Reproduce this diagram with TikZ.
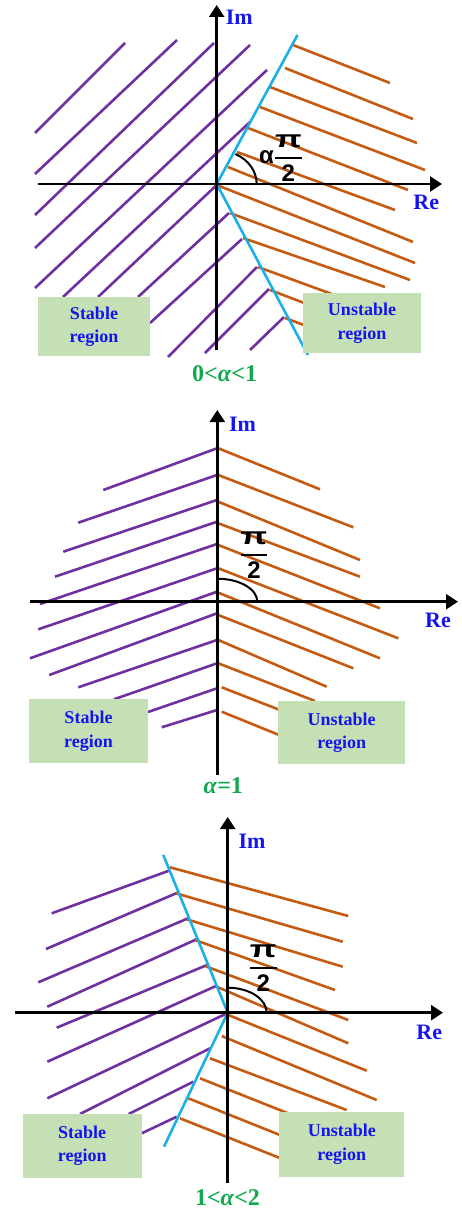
\documentclass[tikz,border=0pt]{standalone}
\usepackage{fontspec}
\setmainfont{Liberation Serif}
\setsansfont{Liberation Sans}
\usetikzlibrary{arrows.meta}
\definecolor{hatchpurple}{HTML}{7030A0}
\definecolor{hatchorange}{HTML}{C55A11}
\definecolor{edgeblue}{HTML}{1CB0E8}
\definecolor{boxgreen}{HTML}{C5E0B4}
\definecolor{labelblue}{HTML}{1414F0}
\definecolor{labelgreen}{HTML}{12A84E}
\newcommand{\halfpi}{$\displaystyle{\hbox{\scalebox{1.45}[1]{π}}\above 2pt\hbox{2}}$}
\begin{document}
\begin{tikzpicture}[x=1pt, y=-1pt,
  every node/.style={inner sep=0pt},
  axis/.style={line width=2.5pt, -{Triangle[length=12pt,width=15pt]}},
  axisname/.style={font=\fontsize{22}{26}\selectfont\bfseries, text=labelblue},
  stableline/.style={hatchpurple, line width=2.6pt},
  unstableline/.style={hatchorange, line width=2.6pt},
  boundary/.style={edgeblue, line width=2.6pt},
  anglearc/.style={line width=2pt},
  anglelabel/.style={font=\fontsize{24}{28}\selectfont\sffamily\bfseries},
  regionbox/.style={fill=boxgreen, text=labelblue, align=center, font=\fontsize{18}{23.5}\selectfont\bfseries},
  casename/.style={font=\fontsize{24}{28}\selectfont\bfseries, text=labelgreen}
]
\useasboundingbox (0,0) rectangle (462,1212);
\coordinate (O1) at (216.7,184);
\coordinate (O2) at (217.3,601.7);
\coordinate (O3) at (227.7,1012.7);
\foreach \xa/\ya/\xb/\yb in {35/133/125/43, 35/174/177/40, 35/215/214/43, 35/248/250/45, 35/288/267/70, 63/297/250/122, 98/297/216.7/185, 138/297/229/213, 150/323/242/239, 168/357/257/267, 205/353/269/289, 250/350/284/317}
  \draw[stableline] (\xa,\ya) -- (\xb,\yb);
\foreach \xa/\ya/\xb/\yb in {293/45/390/83, 285/68/413/119, 270/87/417/143, 260/107/425/170, 248/128/408/190, 237/152/395/210, 228/167/413/242, 216.7/185/415/263, 230/213/410/280, 243/238/385/287, 258/267/340/297, 270/290/320/309, 285/318/320/331}
  \draw[unstableline] (\xa,\ya) -- (\xb,\yb);
\draw[boundary] (297.5,35) -- (O1) -- (308,355);
\draw[axis] (216.7,350) -- (216.7,5);
\draw[axis] (38,184) -- (442,184);
\draw[anglearc] ([xshift=40pt]O1) arc[start angle=0, end angle=-62, x radius=40, y radius=34];
\node[anglelabel] (angleA) at (281,158) {α\halfpi};
\node[axisname] (imA) at (239.3,17.5) {Im};
\node[axisname] (reA) at (426.3,202.2) {Re};
\node[regionbox, minimum width=112pt, minimum height=59pt] (stableA) at (94,326.5) {Stable\\region};
\node[regionbox, minimum width=118pt, minimum height=60pt] (unstableA) at (362,323) {Unstable\\region};
\node[casename] (caseA) at (224.7,374) {0<\textit{α}<1};
\foreach \xa/\ya/\xb/\yb in {103.3/490/217/448.3, 78.3/522.7/217/475, 63.3/551.7/217/500, 55/576.7/217/521.7, 40/604/217/544, 38.3/629.3/217/568.3, 30/658.3/217/591.7, 49.3/675/217/613.3, 78.3/687.3/217/640, 114/699.3/217/663.3, 148/712/217/688.3, 161.7/727.3/217/710}
  \draw[stableline] (\xa,\ya) -- (\xb,\yb);
\foreach \xa/\ya/\xb/\yb in {218.3/448.3/320/489.3, 218.3/475/353.3/527.3, 218.3/501.7/360/560, 218.3/523.3/360/576.7, 218.3/545/380/608.3, 218.3/568.3/398.3/638.3, 218.3/592.7/380/658.3, 218.3/615/353.3/668.3, 218.3/640/326.7/686.7, 218.3/663.3/315/701, 221.7/687.3/285/712, 221.7/711.7/283.3/736.7}
  \draw[unstableline] (\xa,\ya) -- (\xb,\yb);
\draw[axis] (217.3,775) -- (217.3,410);
\draw[axis] (30,601.7) -- (458,601.7);
\draw[anglearc] ([xshift=40pt]O2) arc[start angle=0, end angle=-90, x radius=40, y radius=23];
\node[anglelabel] (angleB) at (254,555) {\halfpi};
\node[axisname] (imB) at (242.5,424) {Im};
\node[axisname] (reB) at (438,620.5) {Re};
\node[regionbox, minimum width=118.4pt, minimum height=63.4pt] (stableB) at (88.5,731) {Stable\\region};
\node[regionbox, minimum width=126.7pt, minimum height=63pt] (unstableB) at (341.7,732.5) {Unstable\\region};
\node[casename] (caseB) at (223.3,785.8) {\textit{α}=1};
\foreach \xa/\ya/\xb/\yb in {51.7/913.3/169/870.7, 46/949/177.5/892.7, 38.3/982.3/188/918.3, 47.3/1006.7/196.5/939.3, 56.7/1027.7/207/965, 47.3/1061.7/216/986, 47.3/1098.3/227/1013.3, 80/1114/210/1048.3, 128.7/1114/193.3/1081.7, 141.7/1133.3/176.7/1116.7}
  \draw[stableline] (\xa,\ya) -- (\xb,\yb);
\foreach \xa/\ya/\xb/\yb in {170/867.3/348.3/916, 176/893.3/342.7/941.7, 186.7/919.3/342.7/966.7, 195/940/335/990, 205/966/348.3/1020, 216.7/986.7/348.3/1043.3, 228.3/1015/366.7/1070.7, 221.7/1036/376.7/1100, 210/1058.3/346.7/1110, 200/1078.3/300/1118, 188.3/1098.3/300/1143, 180/1118.3/300/1166}
  \draw[unstableline] (\xa,\ya) -- (\xb,\yb);
\draw[boundary] (163.3,855) -- (O3) -- (164,1146.7);
\draw[axis] (227.7,1183) -- (227.7,817);
\draw[axis] (15,1012.7) -- (443,1012.7);
\draw[anglearc] ([xshift=39pt]O3) arc[start angle=0, end angle=-88, x radius=39, y radius=25];
\node[anglelabel] (angleC) at (263.3,968) {\halfpi};
\node[axisname] (imC) at (252,841.7) {Im};
\node[axisname] (reC) at (429.2,1032.5) {Re};
\node[regionbox, minimum width=119pt, minimum height=63.7pt] (stableC) at (82.2,1145.8) {Stable\\region};
\node[regionbox, minimum width=125pt, minimum height=65pt] (unstableC) at (341.8,1144.2) {Unstable\\region};
\node[casename] (caseC) at (227.5,1197.5) {1<\textit{α}<2};
\end{tikzpicture}
\end{document}
